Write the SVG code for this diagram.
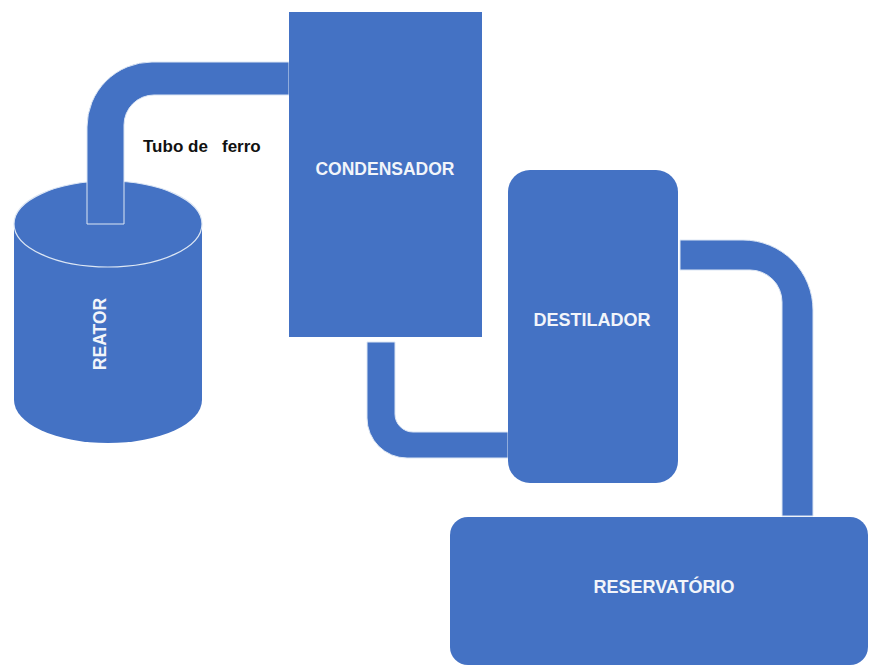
<svg xmlns="http://www.w3.org/2000/svg" width="870" height="668" viewBox="0 0 870 668">
<style>
.shape{fill:#4472C4;}
.pipe{fill:#4472C4;stroke:#DCE6F4;stroke-width:1;}
.lbl{font-family:"Liberation Sans",Arial,sans-serif;font-weight:bold;fill:#F2F5FA;text-anchor:middle;}
.cap{font-family:"Liberation Sans",Arial,sans-serif;font-weight:bold;fill:#111111;font-size:17px;}
</style>
<rect width="870" height="668" fill="#FFFFFF"/>
<g id="reator">
<path class="shape" d="M14,224 L14,400 A94,43 0 0 0 202,400 L202,224 Z"/>
<ellipse cx="108" cy="224" rx="94" ry="43" fill="#4472C4" stroke="#DCE6F4" stroke-width="1.2"/>
<text class="lbl" font-size="17.5" transform="translate(106,334) rotate(-90)">REATOR</text>
</g>
<g id="connectors">
<path class="pipe" d="M87,224 L87,127 A65,65 0 0 1 152,62 L289,62 L289,95 L154,95 A30,30 0 0 0 124,125 L124,224 Z"/>
<path class="pipe" d="M367,342 L367,418 A40,40 0 0 0 407,458 L508,458 L508,432 L413,432 A18,18 0 0 1 395,414 L395,342 Z"/>
<path class="pipe" d="M680,240 L743,240 A70,70 0 0 1 813,310 L813,516 L782,516 L782,302 A32,32 0 0 0 750,270 L680,270 Z"/>
</g>
<g id="tubo-label">
<text class="cap" x="143" y="152" xml:space="preserve">Tubo de   ferro</text>
</g>
<g id="condensador">
<rect class="shape" x="289" y="12" width="193" height="325"/>
<text class="lbl" font-size="17.5" x="385" y="175">CONDENSADOR</text>
</g>
<g id="destilador">
<rect class="shape" x="508" y="170" width="170" height="313" rx="22" ry="22"/>
<text class="lbl" font-size="18" x="592" y="326">DESTILADOR</text>
</g>
<g id="reservatorio">
<rect class="shape" x="450" y="517" width="418" height="148" rx="18" ry="18"/>
<text class="lbl" font-size="18" x="664" y="593">RESERVATÓRIO</text>
</g>
</svg>
